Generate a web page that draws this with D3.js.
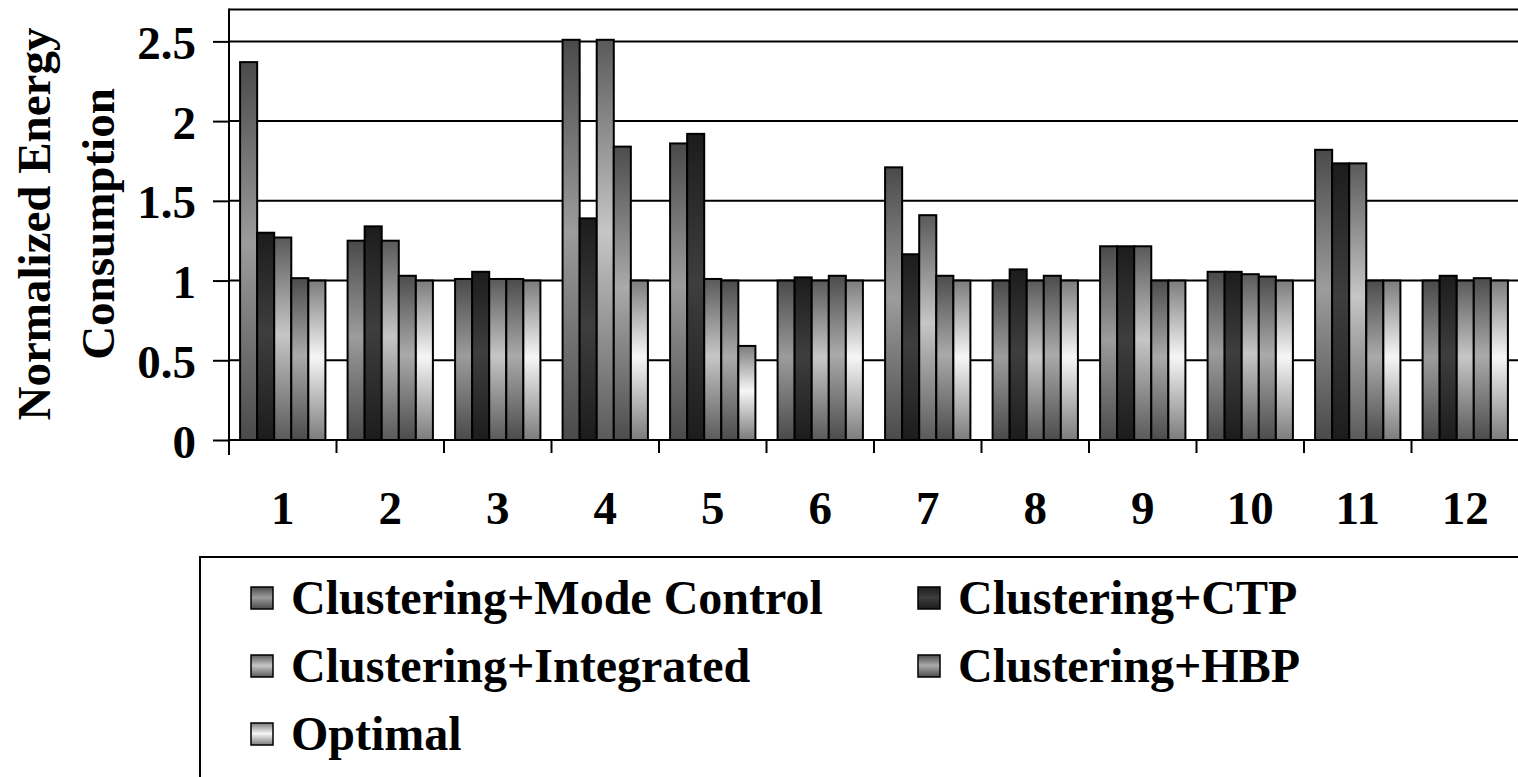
<!DOCTYPE html>
<html>
<head>
<meta charset="utf-8">
<script src="https://cdn.jsdelivr.net/npm/d3@7"></script>
<style>
  body { margin: 0; background: #fff; }
  svg { display: block; }
  text { font-family: "Liberation Serif", "Times New Roman", serif; font-weight: bold; fill: #000; }
</style>
</head>
<body>
<svg id="chart" width="1518" height="777"></svg>
<script>
// Benchmark scenarios on the x axis
const categories = ["1", "2", "3", "4", "5", "6", "7", "8", "9", "10", "11", "12"];

// Series names (legend order)
const seriesNames = [
  "Clustering+Mode Control",
  "Clustering+CTP",
  "Clustering+Integrated",
  "Clustering+HBP",
  "Optimal"
];

// Normalized energy consumption per scenario
const modeControl = [2.37, 1.25, 1.01, 2.51, 1.86, 1.00, 1.71, 1.00, 1.215, 1.055, 1.82, 1.00];
const ctp         = [1.30, 1.34, 1.055, 1.39, 1.92, 1.02, 1.165, 1.07, 1.215, 1.055, 1.735, 1.03];
const integrated  = [1.27, 1.25, 1.01, 2.51, 1.01, 1.00, 1.41, 1.00, 1.215, 1.04, 1.735, 1.00];
const hbp         = [1.015, 1.03, 1.01, 1.84, 1.00, 1.03, 1.03, 1.03, 1.00, 1.025, 1.00, 1.015];
const optimal     = [1.00, 1.00, 1.00, 1.00, 0.59, 1.00, 1.00, 1.00, 1.00, 1.00, 1.00, 1.00];

const yTicks = [0, 0.5, 1, 1.5, 2, 2.5];

// Vertical shading per series: edge tone and centre tone
const shades = [
  { edge: "#4a4a4a", mid: "#9c9c9c" },
  { edge: "#1c1c1c", mid: "#3e3e3e" },
  { edge: "#5a5a5a", mid: "#c6c6c6" },
  { edge: "#4c4c4c", mid: "#aaaaaa" },
  { edge: "#7c7c7c", mid: "#f6f6f6" }
];

const seriesValues = [modeControl, ctp, integrated, hbp, optimal];

const svg = d3.select("#chart");
const fontSize = "47px";

// Plot frame
const plot = { left: 229, right: 1519, top: 9.5, bottom: 440 };

const x = d3.scaleBand().domain(categories).range([plot.left, plot.right]).paddingInner(0).paddingOuter(0);
const xSub = d3.scaleBand().domain(d3.range(seriesNames.length)).range([0, x.bandwidth()]).paddingInner(0).paddingOuter(0.65);
const y = d3.scaleLinear().domain([0, 2.7]).range([plot.bottom, plot.top]);

// Gradients
const defs = svg.append("defs");
shades.forEach((s, i) => {
  const g = defs.append("linearGradient")
    .attr("id", "shade" + i)
    .attr("x1", 0).attr("y1", 0).attr("x2", 0).attr("y2", 1);
  g.append("stop").attr("offset", "0%").attr("stop-color", s.edge);
  g.append("stop").attr("offset", "48%").attr("stop-color", s.mid);
  g.append("stop").attr("offset", "100%").attr("stop-color", s.edge);
});

// Gridlines
svg.append("g")
  .selectAll("line")
  .data(yTicks.filter(d => d > 0))
  .join("line")
  .attr("x1", plot.left).attr("x2", 1518)
  .attr("y1", d => y(d)).attr("y2", d => y(d))
  .attr("stroke", "#000").attr("stroke-width", 2);

// Top border of plot area
svg.append("line")
  .attr("x1", plot.left).attr("x2", 1518)
  .attr("y1", plot.top).attr("y2", plot.top)
  .attr("stroke", "#000").attr("stroke-width", 2);

// Bars
const groups = svg.append("g")
  .selectAll("g")
  .data(categories)
  .join("g")
  .attr("transform", d => `translate(${x(d)},0)`);

groups.selectAll("rect")
  .data((c, ci) => seriesValues.map((vals, si) => ({ si, v: vals[ci] })))
  .join("rect")
  .attr("x", d => xSub(d.si))
  .attr("width", xSub.bandwidth())
  .attr("y", d => y(d.v))
  .attr("height", d => y(0) - y(d.v))
  .attr("fill", d => `url(#shade${d.si})`)
  .attr("stroke", "#000")
  .attr("stroke-width", 2);

// Y axis
const yAxis = d3.axisLeft(y).tickValues(yTicks).tickSize(16).tickFormat(d3.format("~g"));
const yg = svg.append("g").attr("transform", `translate(${plot.left},0)`).call(yAxis);
yg.select(".domain").remove();
yg.selectAll(".tick line").attr("stroke", "#000").attr("stroke-width", 2);
yg.selectAll(".tick text")
  .attr("x", -33).attr("dy", null).attr("y", 17)
  .style("font-size", fontSize)
  .style("font-family", "'Liberation Serif', 'Times New Roman', serif")
  .style("font-weight", "bold");
svg.append("line")
  .attr("x1", plot.left).attr("x2", plot.left)
  .attr("y1", plot.top - 1).attr("y2", plot.bottom + 15)
  .attr("stroke", "#000").attr("stroke-width", 2);

// X axis: tick marks on category boundaries
const boundaries = categories.map(c => x(c)).concat([plot.right]);
svg.append("line")
  .attr("x1", plot.left).attr("x2", 1518)
  .attr("y1", plot.bottom).attr("y2", plot.bottom)
  .attr("stroke", "#000").attr("stroke-width", 2);
svg.append("g")
  .selectAll("line")
  .data(boundaries)
  .join("line")
  .attr("x1", d => d).attr("x2", d => d)
  .attr("y1", plot.bottom).attr("y2", plot.bottom + 13)
  .attr("stroke", "#000").attr("stroke-width", 2);

svg.append("g")
  .selectAll("text")
  .data(categories)
  .join("text")
  .attr("x", d => x(d) + x.bandwidth() / 2)
  .attr("y", 524)
  .attr("text-anchor", "middle")
  .style("font-size", fontSize)
  .text(d => d);

// Y axis title
const titleLines = ["Normalized Energy", "Consumption"];
svg.append("g")
  .selectAll("text")
  .data(titleLines)
  .join("text")
  .attr("transform", (d, i) => `translate(${50 + i * 64},224) rotate(-90)`)
  .attr("text-anchor", "middle")
  .style("font-size", fontSize)
  .text(d => d);

// Legend
const legend = svg.append("g");
legend.append("rect")
  .attr("x", 200).attr("y", 557)
  .attr("width", 1400).attr("height", 300)
  .attr("fill", "#fff")
  .attr("stroke", "#000").attr("stroke-width", 2);

const legendCols = [251, 918];
const legendRows = [598, 666, 734];
const items = legend.selectAll("g.item")
  .data(seriesNames)
  .join("g")
  .attr("class", "item")
  .attr("transform", (d, i) => `translate(${legendCols[i % 2]},${legendRows[Math.floor(i / 2)]})`);

items.append("rect")
  .attr("x", 0).attr("y", -11)
  .attr("width", 22).attr("height", 22)
  .attr("fill", (d, i) => `url(#shade${i})`)
  .attr("stroke", "#000").attr("stroke-width", 1.5);

items.append("text")
  .attr("x", 40).attr("y", 16)
  .style("font-size", "48px")
  .text(d => d);
</script>
</body>
</html>
